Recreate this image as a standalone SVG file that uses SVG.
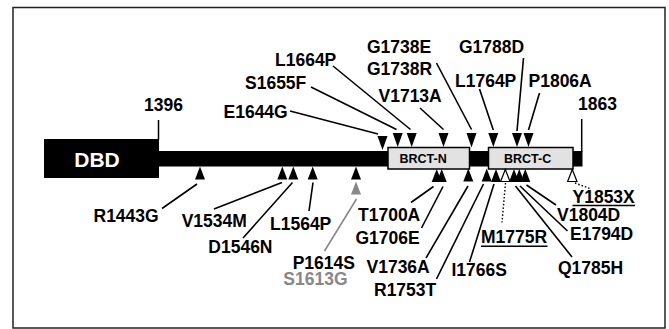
<svg xmlns="http://www.w3.org/2000/svg" width="669" height="329" viewBox="0 0 669 329">
<style>
text{font-family:"Liberation Sans",Arial,sans-serif;font-weight:bold;font-size:17.5px;fill:#000}
.gray{fill:#888}
.dbd{fill:#fff;font-size:21px}
.dom{font-size:12.5px}
.ln{stroke:#000;stroke-width:1.6;fill:none}
.lng{stroke:#888;stroke-width:1.6;fill:none}
.dot{stroke:#000;stroke-width:1.4;stroke-dasharray:1.5 2;fill:none}
.tri{fill:#000}
.trig{fill:#888}
.hol{fill:#fff;stroke:#000;stroke-width:1.2}
.ul{stroke:#000;stroke-width:1.5}
</style>
<rect x="0" y="0" width="669" height="329" fill="#fff"/>
<rect x="13" y="7.5" width="652" height="320.5" fill="#fff" stroke="#222" stroke-width="1.5"/>

<g id="backbone">
<rect x="158" y="151" width="424.5" height="15.5" fill="#000"/>
<line x1="158.5" y1="120" x2="158.5" y2="140" class="ul"/>
<line x1="581.7" y1="119" x2="581.7" y2="152" class="ul"/>
<text x="144" y="110.5">1396</text>
<text x="578" y="110">1863</text>
</g>
<g id="dbd">
<rect x="44" y="139" width="115" height="39" fill="#000"/>
<text class="dbd" x="97" y="166.5" text-anchor="middle">DBD</text>
</g>
<g id="brct-n">
<rect x="388" y="147.5" width="81.5" height="21.5" fill="#e2e2e2" stroke="#000" stroke-width="1.5"/>
<text class="dom" x="399.5" y="162.7">BRCT-N</text>
</g>
<g id="brct-c">
<rect x="488.5" y="147.5" width="84.5" height="21.5" fill="#e2e2e2" stroke="#000" stroke-width="1.5"/>
<text class="dom" x="504" y="163.3">BRCT-C</text>
</g>

<g id="connectors">
<line class="ln" x1="290" y1="111" x2="378" y2="134"/>
<line class="ln" x1="311" y1="87" x2="396.5" y2="129.5"/>
<line class="ln" x1="333" y1="66" x2="410.5" y2="129.5"/>
<line class="ln" x1="420" y1="108" x2="443.5" y2="129.5"/>
<line class="ln" x1="436.5" y1="63" x2="471.5" y2="129.5"/>
<line class="ln" x1="523.5" y1="58" x2="517" y2="131"/>
<line class="ln" x1="479.5" y1="89" x2="493.3" y2="130"/>
<line class="ln" x1="539.5" y1="93" x2="528.5" y2="130"/>
<line class="ln" x1="197" y1="184" x2="162" y2="208.5"/>
<line class="ln" x1="282" y1="182.5" x2="214" y2="209"/>
<line class="ln" x1="292.5" y1="182.5" x2="243" y2="238"/>
<line class="ln" x1="313" y1="182.5" x2="309" y2="211"/>
<line class="lng" x1="356.5" y1="199" x2="324.5" y2="251"/>
<line class="ln" x1="433.5" y1="186.5" x2="411" y2="202.5"/>
<line class="ln" x1="443" y1="186.5" x2="421.5" y2="228"/>
<line class="ln" x1="468" y1="186" x2="426" y2="258"/>
<line class="ln" x1="483.5" y1="184" x2="436.5" y2="279"/>
<line class="ln" x1="494" y1="184" x2="469.5" y2="262"/>
<line class="dot" x1="505.5" y1="183" x2="502" y2="222.5"/>
<line class="ln" x1="515.5" y1="186" x2="572" y2="257"/>
<line class="ln" x1="520" y1="186" x2="567.5" y2="231"/>
<line class="ln" x1="526.5" y1="185" x2="556" y2="205"/>
<line class="dot" x1="575" y1="183" x2="591" y2="189"/>
</g>

<g id="E1644G"><polygon class="tri" points="377.5,136 387.5,136 382.5,150"/><text x="223.5" y="117.5">E1644G</text></g>
<g id="S1655F"><polygon class="tri" points="392.7,133 402.7,133 397.7,147"/><text x="245" y="89">S1655F</text></g>
<g id="L1664P"><polygon class="tri" points="406.7,133 416.7,133 411.7,147"/><text x="275" y="66">L1664P</text></g>
<g id="V1713A"><polygon class="tri" points="438.5,133 448.5,133 443.5,147"/><text x="378.5" y="101.7">V1713A</text></g>
<g id="G1738E"><text x="367" y="53">G1738E</text></g>
<g id="G1738R"><polygon class="tri" points="466.5,133 476.5,133 471.5,147.5"/><text x="367" y="75">G1738R</text></g>
<g id="L1764P"><polygon class="tri" points="488.3,133 498.3,133 493.3,147"/><text x="455" y="86.5">L1764P</text></g>
<g id="G1788D"><polygon class="tri" points="512,133 522,133 517,147"/><text x="459" y="53.3">G1788D</text></g>
<g id="P1806A"><polygon class="tri" points="523.5,133 533.5,133 528.5,147"/><text x="528.5" y="86.5">P1806A</text></g>

<g id="R1443G"><polygon class="tri" points="200,166.5 205,179.5 195,179.5"/><text x="93.5" y="221.5">R1443G</text></g>
<g id="V1534M"><polygon class="tri" points="282.3,166.5 287.3,179.5 277.3,179.5"/><text x="181.7" y="226.7">V1534M</text></g>
<g id="D1546N"><polygon class="tri" points="293.3,166.5 298.3,179.5 288.3,179.5"/><text x="208.3" y="253.3">D1546N</text></g>
<g id="L1564P"><polygon class="tri" points="312.7,166.5 317.7,179.5 307.7,179.5"/><text x="270" y="230">L1564P</text></g>
<g id="P1614S"><polygon class="tri" points="356,166.5 361,179.5 351,179.5"/><text x="292.7" y="269">P1614S</text></g>
<g id="S1613G"><polygon class="trig" points="356,181.5 361,194.5 351,194.5"/><text class="gray" x="283.3" y="285">S1613G</text></g>
<g id="T1700A"><polygon class="tri" points="436.7,169 441.7,182 431.7,182"/><text x="358" y="220.7">T1700A</text></g>
<g id="G1706E"><polygon class="tri" points="441.7,169 446.7,182 436.7,182"/><text x="355.5" y="244">G1706E</text></g>
<g id="V1736A"><polygon class="tri" points="468.3,168.5 473.3,181.5 463.3,181.5"/><text x="366.5" y="273">V1736A</text></g>
<g id="R1753T"><polygon class="tri" points="486.7,168.5 491.7,181.5 481.7,181.5"/><text x="374" y="296">R1753T</text></g>
<g id="I1766S"><polygon class="tri" points="496,169 501,182 491,182"/><text x="451.5" y="275.5">I1766S</text></g>
<g id="M1775R"><polygon class="hol" points="505.3,169.5 510,181.5 500.6,181.5"/><text x="481" y="243.3">M1775R</text><line class="ul" x1="481" y1="246.2" x2="547.5" y2="246.2"/></g>
<g id="Q1785H"><polygon class="tri" points="514,169 519,182 509,182"/><text x="558" y="274">Q1785H</text></g>
<g id="E1794D"><polygon class="tri" points="519.3,169 524.3,182 514.3,182"/><text x="570" y="240">E1794D</text></g>
<g id="V1804D"><polygon class="tri" points="525.3,169 530.3,182 520.3,182"/><text x="557" y="221">V1804D</text></g>
<g id="Y1853X"><polygon class="hol" points="572.3,169.5 577,181.5 567.6,181.5"/><text x="572.5" y="202.7">Y1853X</text><line class="ul" x1="572.5" y1="205.6" x2="635" y2="205.6"/></g>
</svg>
